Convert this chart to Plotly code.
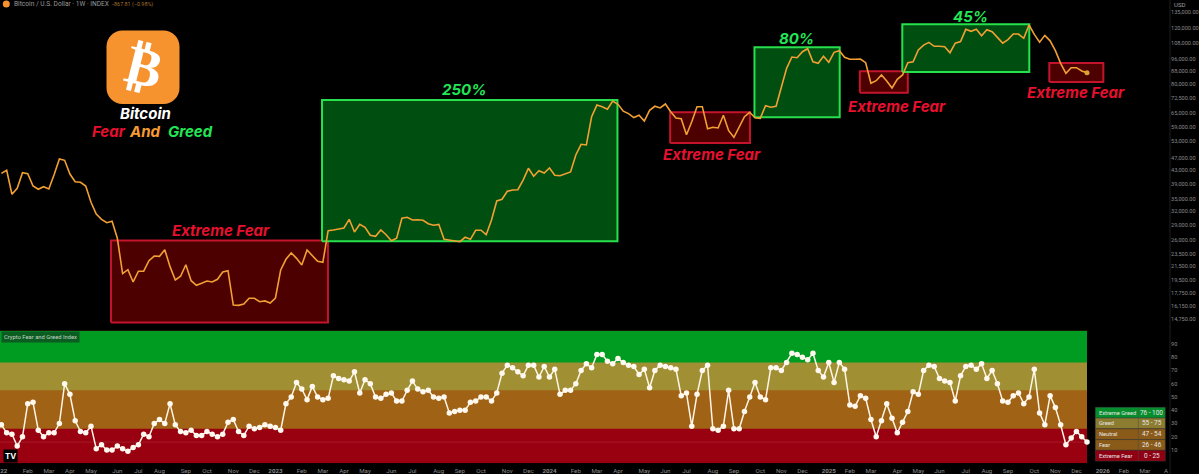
import math
import plotly.graph_objects as go

W, H = 1199, 474

price = [42100,43050,36210,37810,42310,42000,38440,37540,38250,37620,41700,46710,46270,41920,39650,39480,38440,34180,31410,30230,
         29500,29800,26360,20420,21020,19230,20780,20780,22420,23190,23140,24270,21480,19510,20040,21780,19410,18770,19050,19370,
         19230,19610,20670,20870,16280,16240,16400,17090,17090,16680,16770,16520,17130,20970,22650,23720,22810,21740,24220,23310,
         22320,22160,27840,27990,28190,28390,30230,27580,29150,28530,26930,26740,27990,27050,25910,26360,30450,30670,30080,30140,
         30010,29290,28950,29150,26170,26040,25910,25720,26550,26170,27930,27930,27050,30080,34500,34930,37000,37350,37430,40140,
         43680,41230,42930,42230,43780,41530,41410,41920,42530,48080,51950,51700,63400,68960,68150,66880,71000,69330,65970,64840,
         63000,64100,61440,66400,68360,67520,69480,65730,62810,62490,55670,61150,68150,68150,58130,58720,58430,64050,57300,54640,
         58980,63400,65450,62940,62670,68640,67850,68340,78380,89910,97530,97040,101330,103570,94270,93200,98020,93880,100910,102100,
         97330,95940,95940,96140,93610,80670,82220,85670,82040,78000,83050,85670,93610,94270,102600,106300,108400,105380,105380,105080,
         100590,107830,109080,119130,117420,119130,113670,118790,117060,112570,107830,110620,115130,115130,111640,122900,114850,108600,114020,109630,
         102080,93200,86710,90300,90300,88180,87140]

fear_greed = [29,23,22,13,20,45,46,25,20,23,23,30,60,52,32,24,23,28,11,14,
              10,10,13,11,9,12,14,22,20,30,33,30,45,29,24,23,25,21,21,24,
              22,20,22,31,33,24,21,28,26,27,29,28,27,25,45,50,61,56,48,58,
              50,48,49,66,64,63,62,69,53,63,60,50,49,52,53,47,47,55,62,56,
              54,55,50,49,50,38,39,40,40,46,47,50,50,47,53,68,74,72,69,66,
              74,74,65,73,65,71,52,55,55,60,70,75,72,82,82,77,75,79,76,74,
              73,67,71,57,70,74,73,72,71,51,53,28,52,70,74,26,25,28,55,26,
              26,39,50,61,50,48,72,72,70,76,83,82,80,78,83,70,65,76,61,76,
              71,44,43,51,49,33,20,32,45,34,23,31,39,54,52,70,74,73,64,62,
              61,47,66,73,74,71,75,64,70,60,47,46,51,53,45,50,71,38,29,51,
              42,29,14,19,24,20,16]

weeks = list(range(len(price)))

fear_boxes = [(20.8, 61.97, 14350, 25950), (126.9, 142.05, 52430, 65500),
              (162.9, 172.0, 75380, 88000), (198.85, 209.1, 81440, 93450)]
greed_boxes = [(60.84, 116.9, 25800, 71500), (142.9, 159.07, 63130, 104600),
               (170.95, 195.05, 87600, 123500)]

price_ticks = [135000,120000,108000,96000,88000,80000,72500,65000,59000,53000,47000,43000,39000,35000,32000,29000,26000,23500,21500,19500,17750,16150,14750]
fg_ticks = [10,20,30,40,50,60,70,80,90]

month_ticks = [0.45,5,9,13,17,22,26,30,35,39,44,48,52,57,61,65,69,74,78,83,87,91,96,100,104,109,113,117,122,126,130,135,139,144,148,152,157,161,165,170,174,178,183,187,191,196,200,204,209,213,217,221]
month_labels = ['<b>22</b>','Feb','Mar','Apr','May','Jun','Jul','Aug','Sep','Oct','Nov','Dec',
                '<b>2023</b>','Feb','Mar','Apr','May','Jun','Jul','Aug','Sep','Oct','Nov','Dec',
                '<b>2024</b>','Feb','Mar','Apr','May','Jun','Jul','Aug','Sep','Oct','Nov','Dec',
                '<b>2025</b>','Feb','Mar','Apr','May','Jun','Jul','Aug','Sep','Oct','Nov','Dec',
                '<b>2026</b>','Feb','Mar','A']

band_low = [0, 26, 55, 76]
band_colors = ['#990010', '#A06215', '#A08F33', '#009C22']

legend_names = ['Extreme Greed', 'Greed', 'Neutral', 'Fear', 'Extreme Fear']
legend_ranges = ['76 - 100', '55 - 75', '47 - 54', '26 - 46', '0 - 25']
legend_colors = ['#078E2C', '#8C7C30', '#8A5A18', '#8A5A18', '#8E0012']

RED = '#E8102E'
GREEN = '#22E655'
FONT = 'Inter'
SMALL = 'Roboto'


def px(x):
    return x / W


def py(y):
    return 1 - y / H


fig = go.Figure()

for x0, x1, lo, hi in fear_boxes:
    fig.add_trace(go.Scatter(x=[x0, x1, x1, x0, x0], y=[lo, lo, hi, hi, lo], mode='lines', fill='toself',
                             fillcolor='#4C0000', line=dict(color='#C4142C', width=2), hoverinfo='skip',
                             xaxis='x', yaxis='y', showlegend=False))
for x0, x1, lo, hi in greed_boxes:
    fig.add_trace(go.Scatter(x=[x0, x1, x1, x0, x0], y=[lo, lo, hi, hi, lo], mode='lines', fill='toself',
                             fillcolor='#004F10', line=dict(color='#28E04E', width=2), hoverinfo='skip',
                             xaxis='x', yaxis='y', showlegend=False))

fig.add_trace(go.Scatter(x=weeks, y=price, mode='lines', line=dict(color='#F2A033', width=1.6),
                         xaxis='x', yaxis='y', showlegend=False, name='BTC'))
fig.add_trace(go.Scatter(x=weeks[-1:], y=price[-1:], mode='markers', marker=dict(color='#DDA033', size=5),
                         xaxis='x', yaxis='y', showlegend=False))
fig.add_trace(go.Scatter(x=weeks, y=fear_greed, mode='lines+markers',
                         line=dict(color='#FFF6E8', width=1.5), marker=dict(color='#FFF8EE', size=5.5),
                         xaxis='x', yaxis='y2', showlegend=False, name='Fear & Greed'))

shapes = []
for lo, c in zip(band_low, band_colors):
    shapes.append(dict(type='rect', xref='x', yref='y2', x0=-0.3, x1=weeks[-1], y0=lo, y1=100,
                       fillcolor=c, line_width=0, layer='below'))
shapes.append(dict(type='line', xref='x', yref='y2', x0=-0.3, x1=weeks[-1], y0=fear_greed[-1], y1=fear_greed[-1],
                   line=dict(color='rgba(255,255,255,0.10)', width=1), layer='below'))
shapes.append(dict(type='line', xref='paper', yref='paper', x0=px(1170), x1=px(1170), y0=0, y1=1,
                   line=dict(color='#1E1E1E', width=1)))
l, r, t, b, c = px(106.5), px(179.5), py(30.5), py(104), 16
cx, cy = c / W, c / H
k = 0.45
path = (f'M {l+cx} {t} L {r-cx} {t} C {r-cx*k} {t} {r} {t-cy*k} {r} {t-cy} L {r} {b+cy} '
        f'C {r} {b+cy*k} {r-cx*k} {b} {r-cx} {b} L {l+cx} {b} C {l+cx*k} {b} {l} {b+cy*k} {l} {b+cy} '
        f'L {l} {t-cy} C {l} {t-cy*k} {l+cx*k} {t} {l+cx} {t} Z')
shapes.append(dict(type='path', xref='paper', yref='paper', path=path, fillcolor='#F7932F', line_width=0))
shapes.append(dict(type='circle', xref='paper', yref='paper', x0=px(2.8), x1=px(9.8), y0=py(7.4), y1=py(0.4),
                   fillcolor='#F7932F', line_width=0))

ann = []


def text(x, y, s, size, color, bold=False, italic=False, anchor='center', family=FONT, **kw):
    st = s
    if bold:
        st = f'<b>{st}</b>'
    if italic:
        st = f'<i>{st}</i>'
    ann.append(dict(xref='paper', yref='paper', x=px(x), y=py(y), text=st, showarrow=False, xanchor=anchor,
                    yanchor='middle', font=dict(size=size, color=color, family=family), **kw))


for x, y in [(221, 231), (712, 154), (896.5, 106.5), (1076, 92.3)]:
    text(x, y, 'Extreme Fear', 15, RED, bold=True, italic=True)
text(464, 89, '250%', 15, GREEN, bold=True, italic=True)
text(796, 38, '80%', 15, GREEN, bold=True, italic=True)
text(970, 16, '45%', 15, GREEN, bold=True, italic=True)

text(145.5, 113.5, 'Bitcoin', 15, '#FFFFFF', bold=True, italic=True)
text(109, 131.5, 'Fear', 15, RED, bold=True, italic=True)
text(145, 131.5, 'And', 15, '#F79A33', bold=True, italic=True)
text(190, 131.5, 'Greed', 15, GREEN, bold=True, italic=True)
text(143.5, 67, '₿', 54, '#FFFFFF', bold=True, family='DejaVu Sans', textangle=14)

text(12, 4, 'Bitcoin / U.S. Dollar · 1W · INDEX', 6.6, '#9A9A9A', anchor='left', family=SMALL)
text(109, 4, '−867.81 (−0.98%)', 5.4, '#A5702E', anchor='left', family=SMALL)
text(1172, 4, 'USD', 6, '#A0A0A0', anchor='left', family=SMALL)

text(1, 337.2, 'Crypto Fear and Greed Index', 5.8, '#C4D4C4', anchor='left', bgcolor='#0B5C20', borderpad=2, family=SMALL)
text(10, 456, 'TV', 8, '#FFFFFF', bold=True, bgcolor='#000000', borderpad=1)

top, rh = 407.3, 10.76
for i, (n, rg, col) in enumerate(zip(legend_names, legend_ranges, legend_colors)):
    y0, y1 = top + i * rh, top + (i + 1) * rh
    shapes.append(dict(type='rect', xref='paper', yref='paper', x0=px(1095.3), x1=px(1165.3), y0=py(y1), y1=py(y0),
                       fillcolor=col, line=dict(color='#3A3A3A', width=0.5)))
    text(1097, (y0 + y1) / 2, n, 5.7, '#E6E6E6', anchor='left', family=SMALL)
    text(1151.7, (y0 + y1) / 2, rg, 6.4, '#E6E6E6', family=SMALL)
shapes.append(dict(type='line', xref='paper', yref='paper', x0=px(1138.3), x1=px(1138.3), y0=py(top + 5 * rh), y1=py(top),
                   line=dict(color='#4A4A4A', width=0.5)))

log_top = math.log10(120000) + 28.3 / 319
log_bot = math.log10(120000) - (327 - 28.3) / 319

fig.update_layout(
    width=W, height=H, autosize=False, margin=dict(l=0, r=0, t=0, b=0),
    paper_bgcolor='#000000', plot_bgcolor='#000000', showlegend=False,
    font=dict(family=SMALL, color='#8A8A8A', size=6),
    shapes=shapes, annotations=ann,
    xaxis=dict(domain=[0, 1170 / W], range=[-0.266, 221.75], anchor='y2', showgrid=False, zeroline=False, showline=False,
               tickmode='array', tickvals=month_ticks, ticktext=month_labels, ticks='', tickangle=0, ticklabelstandoff=2,
               tickfont=dict(size=6.2, color='#8A8A8A', family=SMALL)),
    yaxis=dict(type='log', domain=[1 - 327 / H, 1], range=[log_bot, log_top], side='right', anchor='x', showgrid=False,
               zeroline=False, showline=False, tickmode='array', tickvals=price_ticks,
               ticktext=[f'{v:,.2f}' for v in price_ticks], ticks='',
               tickfont=dict(size=5.6, color='#8A8A8A', family=SMALL)),
    yaxis2=dict(domain=[1 - 463.3 / H, 1 - 330.7 / H], range=[0, 100], side='right', anchor='x', showgrid=False,
                zeroline=False, showline=False, tickmode='array', tickvals=fg_ticks, ticks='',
                tickfont=dict(size=5.6, color='#8A8A8A', family=SMALL)),
)

fig.write_html('out.html', config={'displayModeBar': False},
               post_script="document.documentElement.style.overflow='hidden';document.body.style.overflow='hidden';"
                           "document.body.style.margin='0';document.body.style.background='#000';")
